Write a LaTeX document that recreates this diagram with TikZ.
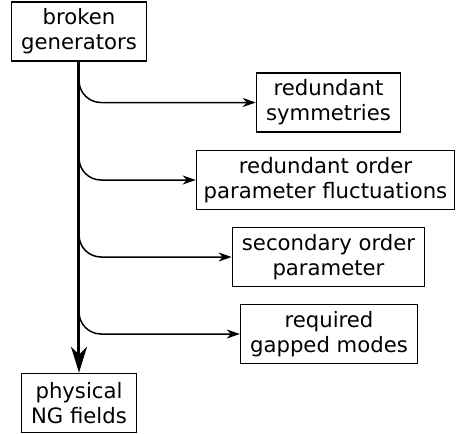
\documentclass[tikz,border=0pt]{standalone}
\usepackage{fontspec}
\setmainfont{DejaVu Sans}
\usetikzlibrary{arrows.meta}

\begin{document}
\begin{tikzpicture}[x=0.5pt, y=-0.5pt]
        % ================= styles =================
        \tikzset{
            % plain box with two lines of text
            box/.style={draw=black, line width=0.8pt, fill=white, align=center, inner xsep=4.75pt, inner ysep=0pt, minimum height=29.5pt, font=\fontsize{10.6}{12.5}\selectfont},
            % thick main line
            trunk/.style={line width=1.5pt, black, -{Stealth[length=13pt, width=8pt, inset=4pt]}},
            % thin side branches
            branch/.style={line width=0.75pt, black, rounded corners=11pt, -{Stealth[length=6.5pt, width=4.5pt, inset=2pt]}}
        }

        \useasboundingbox (0,0) rectangle (457,434);

        % ================= positions =================
        \coordinate (gen_p) at (79, 31.5);
        \coordinate (ng_p) at (79, 403);
        \coordinate (sym_p) at (328.5, 102.5);
        \coordinate (fluc_p) at (325.5, 180);
        \coordinate (sec_p) at (328.5, 257);
        \coordinate (gap_p) at (329, 334);

        % ================= boxes =================
        \node[box] (gen) at (gen_p) {broken\\generators};
        \node[box] (ng) at (ng_p) {physical\\NG fields};
        \node[box] (sym) at (sym_p) {redundant\\symmetries};
        \node[box, inner xsep=3.6pt] (fluc) at (fluc_p) {redundant order\\parameter fluctuations};
        \node[box] (sec) at (sec_p) {secondary order\\parameter};
        \node[box] (gap) at (gap_p) {required\\gapped modes};

        % ================= main line =================
        \draw[trunk] (gen.south) -- (ng.north);

        % ================= branches =================
        \draw[branch] ([yshift=15pt]sym.west -| gen.south) |- (sym.west);
        \draw[branch] ([yshift=15pt]fluc.west -| gen.south) |- (fluc.west);
        \draw[branch] ([yshift=15pt]sec.west -| gen.south) |- (sec.west);
        \draw[branch] ([yshift=15pt]gap.west -| gen.south) |- (gap.west);

    \end{tikzpicture}
\end{document}
